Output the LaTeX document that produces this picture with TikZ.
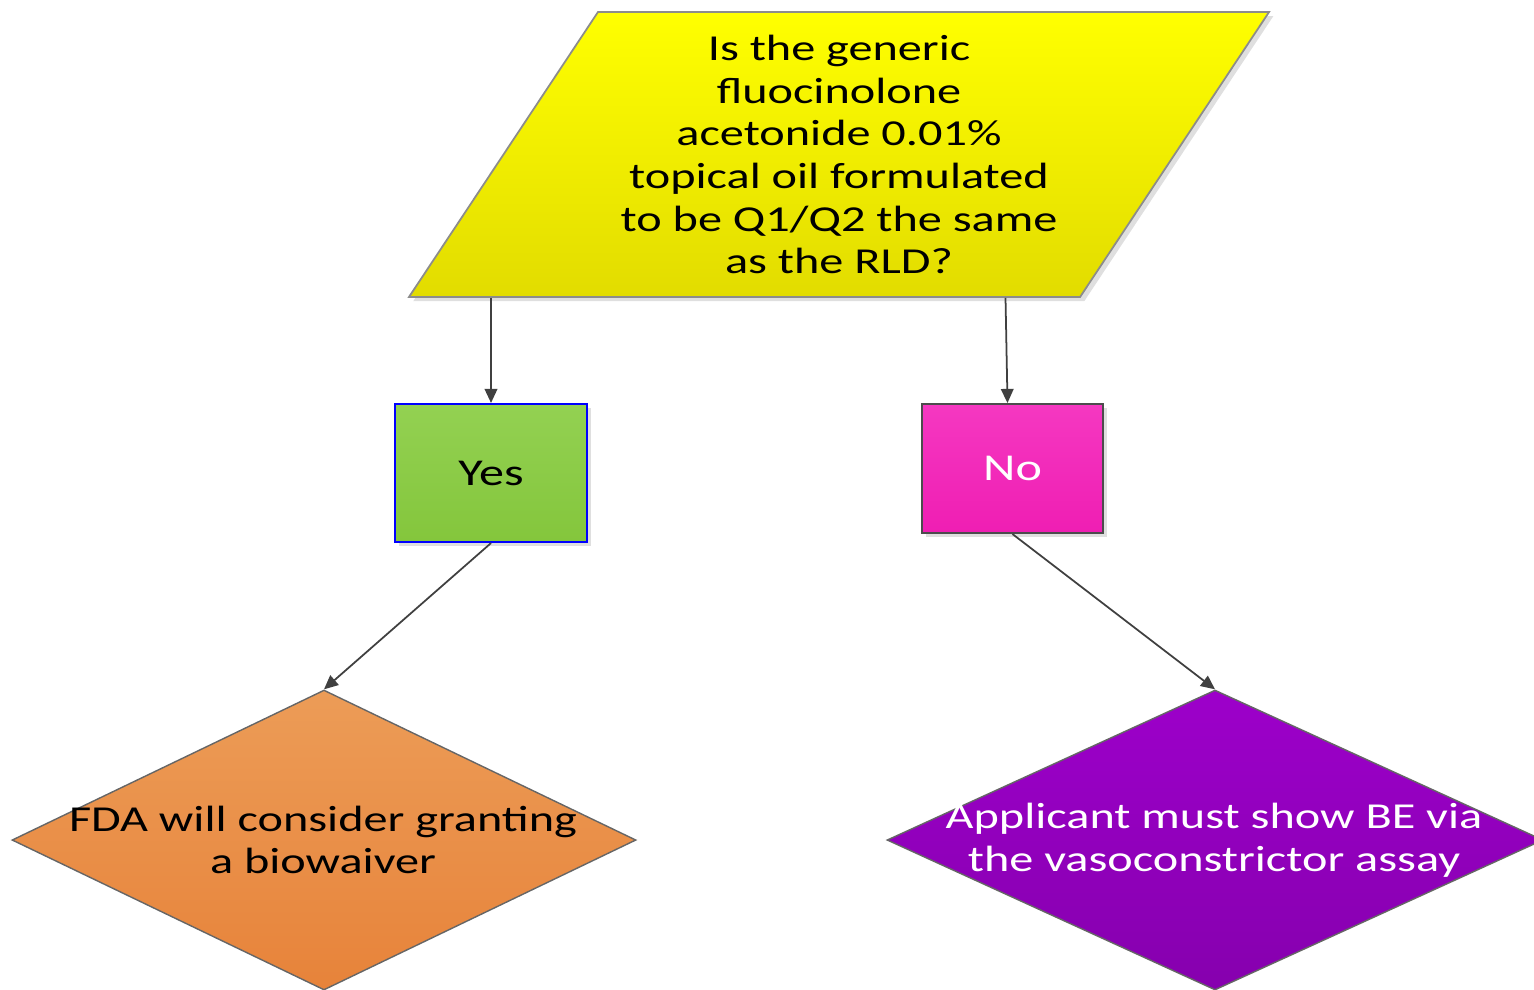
\documentclass[tikz,border=0pt]{standalone}
\usepackage{fontspec}
\setmainfont{Carlito}[FakeStretch=1.32]
\usetikzlibrary{shapes.geometric,arrows.meta,shadows}
\definecolor{qtop}{HTML}{FFFF00}
\definecolor{qbot}{HTML}{E2DC00}
\definecolor{ytop}{HTML}{93D152}
\definecolor{ybot}{HTML}{84C63C}
\definecolor{ntop}{HTML}{F538C1}
\definecolor{nbot}{HTML}{EF1EB3}
\definecolor{otop}{HTML}{EC9C57}
\definecolor{obot}{HTML}{E7833A}
\definecolor{ptop}{HTML}{9D00CA}
\definecolor{pbot}{HTML}{8600AE}
\tikzset{
  softshadow/.style={drop shadow={shadow xshift=1.2pt,shadow yshift=-1.2pt,opacity=0.25}},
  question/.style={trapezium,trapezium stretches=true,trapezium left angle=54.4,
    trapezium right angle=125.6,minimum width=8.62cm,minimum height=2.85cm,
    inner sep=0pt,draw=gray!90,line width=0.5pt,top color=qtop,bottom color=qbot,softshadow,
    align=center,font=\fontsize{10.4}{12.15}\selectfont},
  answer/.style={rectangle,inner sep=0pt,line width=0.6pt,softshadow,font=\fontsize{10.8}{13}\selectfont},
  outcome/.style={diamond,inner sep=0pt,minimum height=3cm,
    draw=gray!80!black,line width=0.4pt},
  words/.style={align=center,font=\fontsize{10.4}{12.15}\selectfont},
  link/.style={draw=black!75,line width=0.5pt,-{Triangle[width=3.6pt,length=4pt]}}
}
\begin{document}
\begin{tikzpicture}
            \useasboundingbox (0,0) rectangle (15.34,-9.89);
            \node[question] (q) at (8.39,-1.545) {Is the generic\\fluocinolone\\acetonide 0.01\%\\topical oil formulated\\to be Q1/Q2 the same\\as the RLD?};
            \node[answer,draw=blue,top color=ytop,bottom color=ybot,minimum width=1.92cm,minimum height=1.38cm] (yes) at (4.91,-4.73) {Yes};
            \node[answer,draw=black!70,top color=ntop,bottom color=nbot,text=white,minimum width=1.81cm,minimum height=1.29cm] (no) at (10.125,-4.685) {No};
            \node[outcome,minimum width=6.24cm,top color=otop,bottom color=obot] (waiver) at (3.24,-8.40) {};
            \node[words] at (3.23,-8.40) {FDA will consider granting\\a biowaiver};
            \node[outcome,minimum width=6.56cm,top color=ptop,bottom color=pbot] (assay) at (12.15,-8.40) {};
            \node[words,text=white] at (12.14,-8.40) {Applicant must show BE via\\the vasoconstrictor assay};
            \draw[link] (yes.north |- q.south) -- (yes.north);
            \draw[link] ([xshift=-0.07cm]no.north |- q.south) -- ([xshift=-0.05cm]no.north);
            \draw[link] (yes.south) -- (waiver.north);
            \draw[link] (no.south) -- (assay.north);
        \end{tikzpicture}
\end{document}
